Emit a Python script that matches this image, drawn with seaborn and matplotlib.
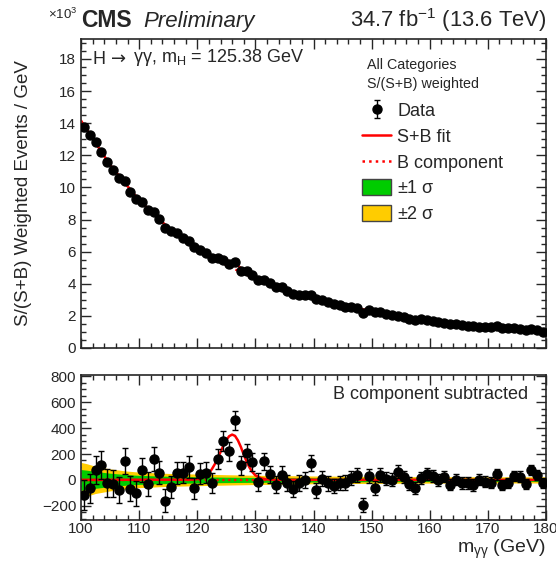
import numpy as np
import matplotlib
matplotlib.use("Agg")
import matplotlib.pyplot as plt
import seaborn as sns
from matplotlib.patches import Patch
from matplotlib.ticker import MultipleLocator

# 1 GeV bins from 100 to 180
mass = np.arange(100.5, 180.0, 1.0)

# weighted events per bin (in units of 10^3)
events_k = [13.77, 13.25, 12.80, 12.23, 11.60, 11.08, 10.56, 10.37, 9.73, 9.29,
            9.10, 8.62, 8.46, 8.04, 7.50, 7.27, 7.15, 6.83, 6.65, 6.27,
            6.12, 5.89, 5.58, 5.58, 5.50, 5.25, 5.35, 4.81, 4.77, 4.52,
            4.21, 4.25, 4.02, 3.77, 3.77, 3.54, 3.35, 3.31, 3.27, 3.27,
            3.04, 2.98, 2.875, 2.75, 2.67, 2.58, 2.54, 2.46, 2.21, 2.375,
            2.27, 2.27, 2.125, 2.06, 2.02, 1.92, 1.79, 1.77, 1.79, 1.75,
            1.69, 1.60, 1.58, 1.50, 1.48, 1.42, 1.40, 1.375, 1.31, 1.33,
            1.31, 1.35, 1.25, 1.25, 1.23, 1.21, 1.10, 1.21, 1.125, 1.00]

# data minus B component
residual = [-117, -65, 75, 114, -23, -29, -80, 143, -68, -104,
            78, -34, 161, 57, -161, -57, 52, 57, 99, -65,
            49, 57, -23, 158, 301, 221, 462, 112, 210, 135,
            -18, 143, 42, -36, 39, -23, -73, -23, 0, 130,
            -80, 8, -26, -47, -23, -21, 13, 36, -195, 29,
            -62, 39, 10, 0, 62, 23, -29, -62, 13, 44,
            29, -3, 26, -36, 3, -23, -23, -39, 3, -13,
            -23, 42, -39, -23, 29, 26, -29, 73, 36, -21]

errors = [115, 110, 110, 108, 106, 104, 102, 100, 98, 96,
          94, 92, 90, 89, 88, 86, 85, 84, 82, 81,
          80, 79, 78, 77, 76, 75, 74, 72, 71, 70,
          69, 68, 67, 66, 65, 64, 63, 62, 61, 60,
          59, 58, 57, 57, 56, 55, 55, 54, 53, 53,
          52, 52, 51, 50, 50, 49, 49, 48, 48, 47,
          47, 46, 46, 45, 45, 44, 44, 43, 43, 42,
          42, 41, 41, 40, 40, 40, 39, 39, 38, 38]

# background fit (10^3)
bkg_x = [100, 105, 110, 115, 120, 125, 130, 135, 140, 145, 150, 155, 160, 165, 170, 175, 180]
bkg_k = [14.15, 11.40, 9.20, 7.50, 6.20, 5.15, 4.30, 3.62, 3.10, 2.64, 2.30, 1.98, 1.72, 1.50, 1.33, 1.20, 1.06]

# signal component
sig_x = [100, 119, 120, 121, 121.5, 122, 122.5, 123, 123.5, 124, 124.5, 125, 125.5, 126,
         126.5, 127, 127.5, 128, 128.5, 129, 129.5, 130, 131, 132, 133, 180]
sig_y = [0, 2, 6, 18, 32, 52, 82, 120, 165, 215, 265, 308, 338, 350,
         340, 305, 255, 195, 140, 95, 60, 35, 12, 4, 1, 0]

# uncertainty bands on B component
band_x = [100, 101, 102.5, 105, 107.5, 110, 115, 120, 125, 130, 140, 150, 160, 170, 180]
band_1s = [80, 75, 65, 52, 42, 35, 28, 24, 21, 19, 16, 14, 13, 12, 12]
band_2s = [135, 125, 105, 85, 70, 60, 50, 45, 40, 36, 30, 27, 25, 24, 24]

sns.set_theme(style="ticks")
plt.rcParams['font.family'] = ['Liberation Sans', 'DejaVu Sans']
plt.rcParams['mathtext.fontset'] = 'custom'
plt.rcParams['mathtext.rm'] = 'Liberation Sans'
plt.rcParams['mathtext.it'] = 'Liberation Sans:italic'
plt.rcParams['mathtext.default'] = 'regular'

fig = plt.figure(figsize=(5.56, 5.64), dpi=100)
ax1 = fig.add_axes([0.1457, 0.383, 0.8363, 0.548])
ax2 = fig.add_axes([0.1457, 0.078, 0.8363, 0.257])

red = '#ff0000'
green = '#00cc00'
yellow = '#ffcc00'

# ---- top panel
fit_x = np.unique(np.concatenate([bkg_x, sig_x]))
fit_b = np.interp(fit_x, bkg_x, bkg_k)
fit_sb = fit_b + np.interp(fit_x, sig_x, sig_y) / 1000.0
sns.lineplot(x=fit_x, y=fit_b, ax=ax1, color=red, lw=1.6, linestyle=':', estimator=None)
sns.lineplot(x=fit_x, y=fit_sb, ax=ax1, color=red, lw=1.8, estimator=None)
data_h = ax1.errorbar(mass, events_k, yerr=np.array(errors) / 1000.0, fmt='o', color='black',
                      ms=6.5, capsize=2.5, elinewidth=1, zorder=5)

ax1.set_xlim(100, 180)
ax1.set_ylim(0, 19.25)
ax1.set_xticklabels([])
ax1.set_ylabel('S/(S+B) Weighted Events / GeV', fontsize=13.5)
ax1.yaxis.set_label_coords(-0.105, 0.5)

ax1.text(0.0, 1.038, 'CMS', transform=ax1.transAxes, fontsize=16.5, fontweight='bold', ha='left', va='baseline')
ax1.text(0.133, 1.038, 'Preliminary', transform=ax1.transAxes, fontsize=16, style='italic', ha='left', va='baseline')
ax1.text(1.0, 1.038, '34.7 fb$^{-1}$ (13.6 TeV)', transform=ax1.transAxes, fontsize=15.8, ha='right', va='baseline')
ax1.text(-0.071, 1.063, r'$\times$10$^3$', transform=ax1.transAxes, fontsize=9.5, ha='left', va='baseline')

# process label, arrow drawn in DejaVu Sans for a longer glyph
t_h = ax1.text(0.024, 0.905, 'H', transform=ax1.transAxes, fontsize=13, ha='left', va='bottom')
t_arrow = ax1.annotate('\u2192', xy=(1, 0), xycoords=t_h, xytext=(4.5, 0), textcoords='offset points',
                       fontsize=13, family='DejaVu Sans', ha='left', va='bottom')
ax1.annotate('\u03b3\u03b3, m$_H$ = 125.38 GeV', xy=(1, 0), xycoords=t_arrow, xytext=(4.5, 0),
             textcoords='offset points', fontsize=13, ha='left', va='bottom')

ax1.text(0.614, 0.885, 'All Categories\nS/(S+B) weighted', transform=ax1.transAxes,
         fontsize=10.3, ha='left', va='center', linespacing=1.45)

handles = [data_h,
           plt.Line2D([], [], color=red, lw=1.8),
           plt.Line2D([], [], color=red, lw=1.8, linestyle=':'),
           Patch(facecolor=green, edgecolor='#444444'),
           Patch(facecolor=yellow, edgecolor='#444444')]
labels = ['Data', 'S+B fit', 'B component', r'$\pm$1 $\sigma$', r'$\pm$2 $\sigma$']
ax1.legend(handles, labels, loc='upper left', bbox_to_anchor=(0.597, 0.807), frameon=False,
           fontsize=13, handlelength=1.6, handleheight=0.95, labelspacing=0.43, handletextpad=0.35,
           borderpad=0.2, borderaxespad=0)

# ---- bottom panel
ax2.fill_between(band_x, [-v for v in band_2s], band_2s, color=yellow, lw=0)
ax2.fill_between(band_x, [-v for v in band_1s], band_1s, color=green, lw=0)
sns.lineplot(x=sig_x, y=sig_y, ax=ax2, color=red, lw=1.8, estimator=None)
ax2.axhline(0, color=red, lw=1.6, linestyle=':')
ax2.errorbar(mass, residual, yerr=errors, fmt='o', color='black', ms=6.5, capsize=2.5, elinewidth=1, zorder=5)

ax2.set_xlim(100, 180)
ax2.set_ylim(-310, 810)
ax2.set_yticks([-200, 0, 200, 400, 600, 800])
ax2.text(0.961, 0.865, 'B component subtracted', transform=ax2.transAxes, fontsize=13, ha='right', va='center')
ax2.set_xlabel(r'm$_{\gamma\gamma}$ (GeV)', fontsize=14)
ax2.xaxis.set_label_coords(1.0, -0.125)
ax2.xaxis.label.set_horizontalalignment('right')

for ax in (ax1, ax2):
    ax.xaxis.set_major_locator(MultipleLocator(10))
    ax.xaxis.set_minor_locator(MultipleLocator(2))
    ax.tick_params(which='both', direction='in', top=True, right=True, labelsize=11, width=1)
    ax.tick_params(which='major', length=7.5)
    ax.tick_params(which='minor', length=3.5)
    for s in ax.spines.values():
        s.set_linewidth(1.2)
ax1.yaxis.set_major_locator(MultipleLocator(2))
ax1.yaxis.set_minor_locator(MultipleLocator(0.5))
ax2.yaxis.set_minor_locator(MultipleLocator(50))
ax2.tick_params(axis='x', pad=1.5)

fig.savefig('out.png', dpi=100)
